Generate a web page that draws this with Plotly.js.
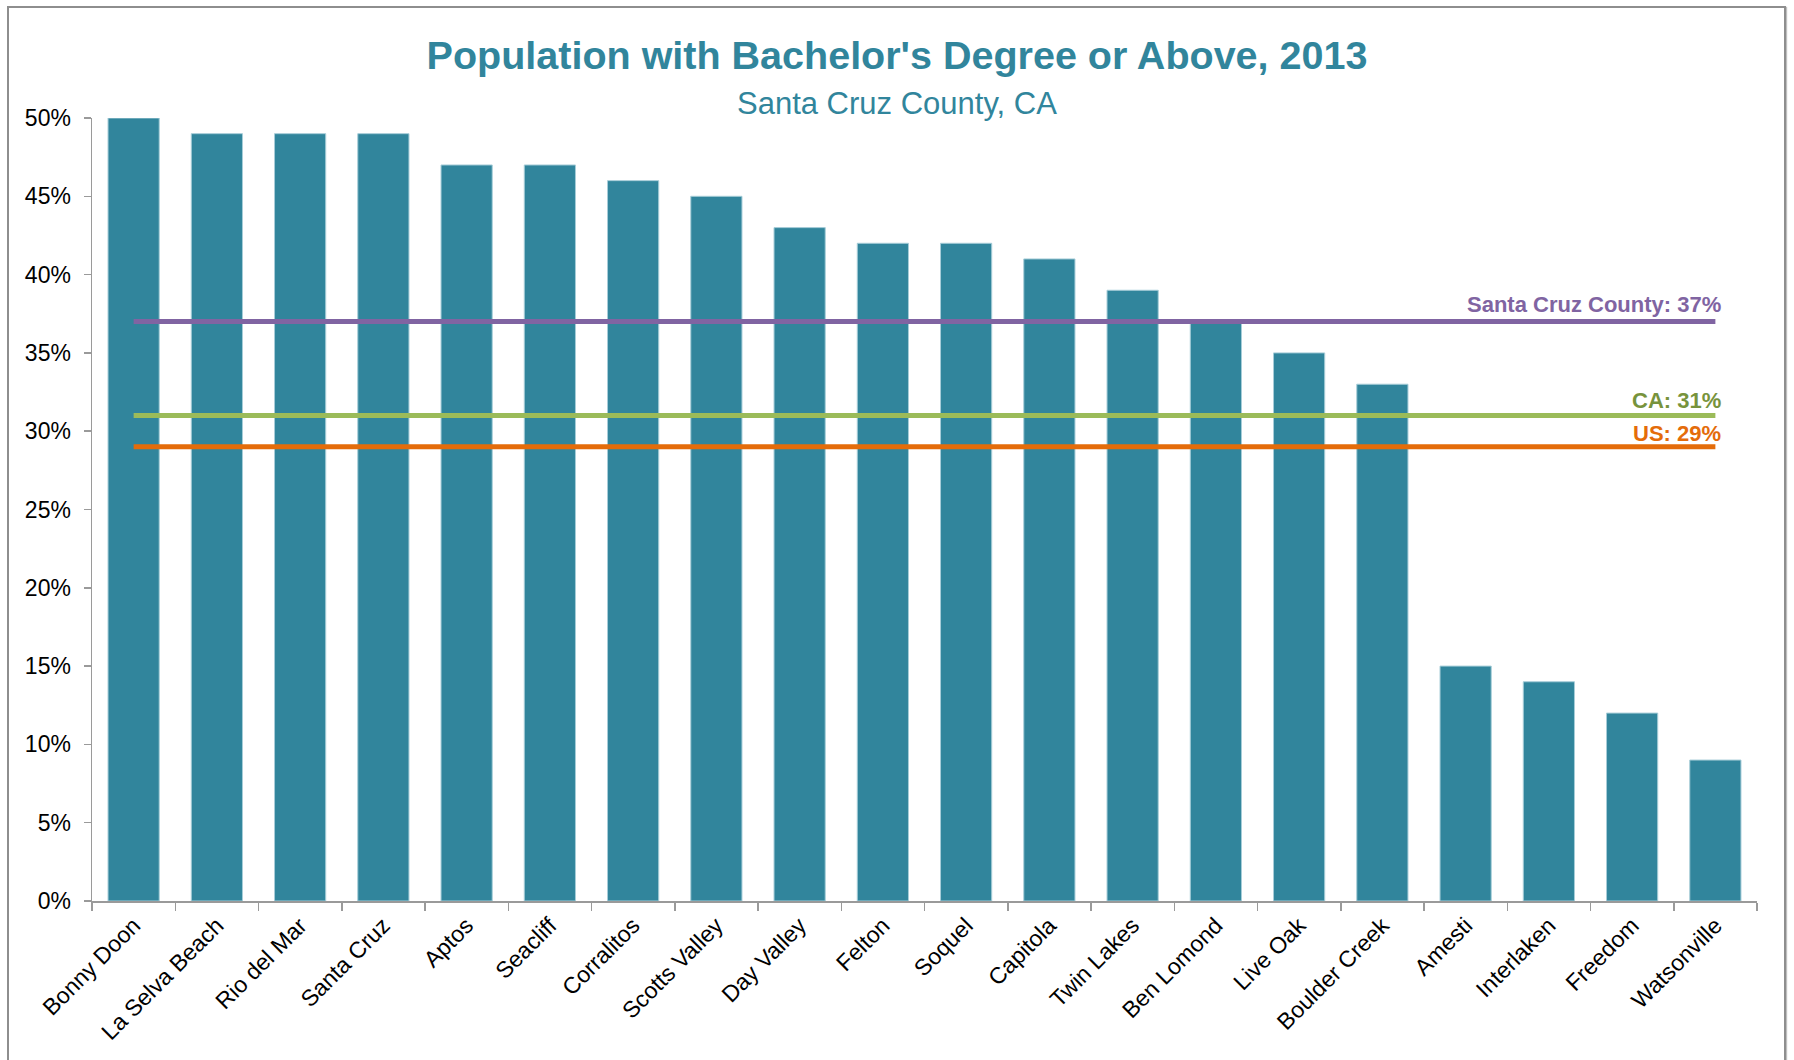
<!DOCTYPE html>
<html>
<head>
<meta charset="utf-8">
<script src="https://cdn.plot.ly/plotly-3.0.1.min.js"></script>
<style>
  html, body { margin: 0; padding: 0; background: #ffffff; }
  #wrap { position: relative; width: 1794px; height: 1060px; overflow: hidden; }
  #chart { position: absolute; left: 0; top: 0; width: 1794px; height: 1060px; }
  #frame { position: absolute; left: 7px; top: 6px; width: 1779px; height: 1070px;
           border: 2px solid #8e8e8e; box-sizing: border-box; pointer-events: none;
           box-shadow: 1px 1px 1px rgba(0,0,0,0.25); }
</style>
</head>
<body>
<div id="wrap">
  <div id="chart"></div>
  <div id="frame"></div>
</div>
<script>
// ---- data ----
const categories = ["Bonny Doon", "La Selva Beach", "Rio del Mar", "Santa Cruz", "Aptos",
  "Seacliff", "Corralitos", "Scotts Valley", "Day Valley", "Felton", "Soquel", "Capitola",
  "Twin Lakes", "Ben Lomond", "Live Oak", "Boulder Creek", "Amesti", "Interlaken",
  "Freedom", "Watsonville"];
const values = [50, 49, 49, 49, 47, 47, 46, 45, 43, 42, 42, 41, 39, 37, 35, 33, 15, 14, 12, 9];

const benchmarkNames = ["Santa Cruz County", "CA", "US"];
const benchmarkValues = [37, 31, 29];

const titleText = "Population with Bachelor's Degree or Above, 2013";
const subtitleText = "Santa Cruz County, CA";

// ---- styles ----
const barColor = "#31859C";
const lineColors = ["#8064A2", "#9BBB59", "#E46C0A"];
const labelColors = ["#8064A2", "#77933C", "#E46C0A"];
const labelShifts = [3, 1, -1.5];
const narrow = '"Liberation Sans Narrow", "Arial Narrow", "Liberation Sans", Arial, sans-serif';
const regular = '"Liberation Sans", Arial, sans-serif';

const traces = [{
  type: "bar",
  x: categories,
  y: values,
  marker: { color: barColor, line: { color: "#a7cdd8", width: 1 } },
  hoverinfo: "x+y"
}];

benchmarkNames.forEach((n, i) => {
  traces.push({
    type: "scatter",
    mode: "lines",
    x: [categories[0], categories[categories.length - 1]],
    y: [benchmarkValues[i], benchmarkValues[i]],
    line: { color: lineColors[i], width: 5 },
    name: n,
    hoverinfo: "name+y"
  });
});

const annotations = benchmarkNames.map((n, i) => ({
  x: categories[categories.length - 1],
  y: benchmarkValues[i],
  xref: "x", yref: "y",
  text: "<b>" + n + ": " + benchmarkValues[i] + "%</b>",
  showarrow: false,
  xanchor: "right", yanchor: "bottom",
  xshift: 8, yshift: labelShifts[i],
  font: { family: narrow, size: 22, color: labelColors[i] }
}));

annotations.push({
  text: subtitleText,
  xref: "paper", yref: "paper",
  x: (897 - 92) / (1757 - 92), y: 1 + (118 - 103) / 783,
  xanchor: "center", yanchor: "middle",
  showarrow: false,
  font: { family: regular, size: 31, color: barColor }
});

const layout = {
  width: 1794, height: 1060,
  margin: { l: 92, r: 37, t: 118, b: 159, pad: 0 },
  paper_bgcolor: "rgba(0,0,0,0)",
  plot_bgcolor: "#ffffff",
  showlegend: false,
  bargap: 0.385,
  title: {
    text: "<b>" + titleText + "</b>",
    xref: "container", x: 0.5, xanchor: "center",
    yref: "container", y: 1 - 55 / 1060, yanchor: "middle",
    font: { family: narrow, size: 39.5, color: barColor }
  },
  xaxis: {
    type: "category",
    tickson: "boundaries",
    ticks: "outside", ticklen: 8, tickcolor: "#9a9a9a", tickwidth: 1.5,
    showline: true, linecolor: "#9a9a9a", linewidth: 2,
    showgrid: false, zeroline: false,
    tickangle: -45,
    tickfont: { family: regular, size: 23, color: "#000000" }
  },
  yaxis: {
    range: [0, 50],
    dtick: 5, tick0: 0,
    ticksuffix: "%",
    ticks: "outside", ticklen: 7, tickcolor: "#9a9a9a", tickwidth: 1.5,
    showline: true, linecolor: "#9a9a9a", linewidth: 1.5,
    showgrid: false, zeroline: false,
    ticklabelstandoff: 8,
    tickfont: { family: regular, size: 23, color: "#000000" }
  },
  annotations: annotations
};

Plotly.newPlot("chart", traces, layout, { displayModeBar: false, staticPlot: true });
</script>
</body>
</html>
